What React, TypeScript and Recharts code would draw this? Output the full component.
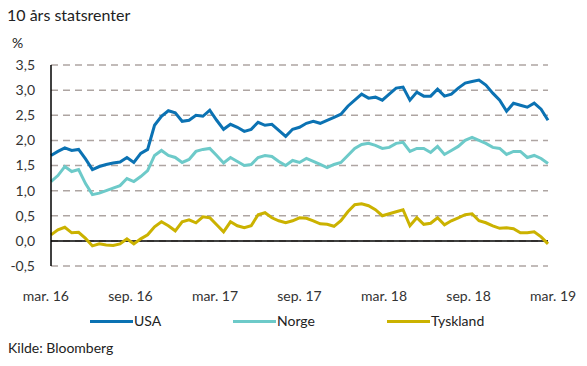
import { CartesianGrid, Line, LineChart, ReferenceLine, XAxis, YAxis } from "recharts";

// months since mar. 2016, half-month steps
const months = [
  0, 0.5, 1, 1.5, 2, 2.5, 3, 3.5, 4, 4.5, 5, 5.5, 6, 6.5, 7, 7.5, 8, 8.5, 9, 9.5,
  10, 10.5, 11, 11.5, 12, 12.5, 13, 13.5, 14, 14.5, 15, 15.5, 16, 16.5, 17, 17.5,
  18, 18.5, 19, 19.5, 20, 20.5, 21, 21.5, 22, 22.5, 23, 23.5, 24, 24.5, 25, 25.5,
  26, 26.5, 27, 27.5, 28, 28.5, 29, 29.5, 30, 30.5, 31, 31.5, 32, 32.5, 33, 33.5,
  34, 34.5, 35, 35.5, 36
];

const usa = [
  1.7, 1.78, 1.85, 1.8, 1.82, 1.63, 1.42, 1.48, 1.52, 1.55, 1.57, 1.66, 1.56, 1.74,
  1.82, 2.3, 2.48, 2.59, 2.55, 2.38, 2.4, 2.5, 2.48, 2.6, 2.4, 2.22, 2.32, 2.26,
  2.18, 2.22, 2.36, 2.3, 2.32, 2.2, 2.08, 2.22, 2.26, 2.34, 2.38, 2.34, 2.4, 2.46,
  2.52, 2.68, 2.8, 2.92, 2.84, 2.86, 2.8, 2.92, 3.04, 3.06, 2.8, 2.96, 2.88, 2.88,
  3.02, 2.88, 2.92, 3.04, 3.14, 3.17, 3.2, 3.1, 2.94, 2.8, 2.58, 2.74, 2.7, 2.66,
  2.74, 2.62, 2.4
];

const norge = [
  1.18, 1.3, 1.48, 1.38, 1.42, 1.14, 0.92, 0.95, 1.0, 1.05, 1.1, 1.24, 1.18, 1.28,
  1.4, 1.7, 1.8, 1.7, 1.66, 1.56, 1.62, 1.78, 1.82, 1.84, 1.7, 1.55, 1.66, 1.58,
  1.5, 1.52, 1.66, 1.7, 1.68, 1.58, 1.5, 1.6, 1.56, 1.64, 1.58, 1.52, 1.46, 1.52,
  1.56, 1.7, 1.84, 1.92, 1.94, 1.9, 1.84, 1.86, 1.94, 1.96, 1.78, 1.84, 1.84, 1.76,
  1.88, 1.72, 1.8, 1.88, 2.0, 2.06, 2.0, 1.94, 1.86, 1.84, 1.72, 1.78, 1.78, 1.66,
  1.7, 1.64, 1.54
];

const tyskland = [
  0.12, 0.22, 0.27, 0.16, 0.17, 0.05, -0.1, -0.06, -0.08, -0.09, -0.06, 0.04, -0.06,
  0.04, 0.12, 0.28, 0.38, 0.3, 0.2, 0.38, 0.42, 0.36, 0.48, 0.46, 0.32, 0.18, 0.38,
  0.3, 0.26, 0.3, 0.52, 0.56, 0.46, 0.4, 0.36, 0.4, 0.46, 0.45, 0.4, 0.34, 0.33, 0.29,
  0.4, 0.58, 0.72, 0.74, 0.7, 0.62, 0.5, 0.54, 0.58, 0.62, 0.3, 0.46, 0.33, 0.35,
  0.46, 0.32, 0.4, 0.46, 0.52, 0.54, 0.4, 0.36, 0.3, 0.25, 0.26, 0.24, 0.16, 0.16,
  0.18, 0.08, -0.06
];

const xTicks = [0, 6, 12, 18, 24, 30, 36];
const xLabels = ["mar. 16", "sep. 16", "mar. 17", "sep. 17", "mar. 18", "sep. 18", "mar. 19"];
const yTicks = [-0.5, 0, 0.5, 1, 1.5, 2, 2.5, 3, 3.5];

const series = [
  { key: "usa", name: "USA", color: "#0b72b3" },
  { key: "norge", name: "Norge", color: "#6dcac9" },
  { key: "tyskland", name: "Tyskland", color: "#cbb200" }
];

const data = months.map((m, i) => ({
  m,
  usa: usa[i],
  norge: norge[i],
  tyskland: tyskland[i]
}));

const font = "Lato, 'Noto Sans', sans-serif";

function XTick({ x, payload, index }: any) {
  const i = xTicks.indexOf(payload.value);
  return (
    <text x={x + (i - 3) * 1.7} y={301} textAnchor="middle" fill="#333" fontSize={14} fontFamily={font}>
      {xLabels[i >= 0 ? i : index]}
    </text>
  );
}

export default function App() {
  return (
    <div style={{ position: "absolute", left: 0, top: 0, width: 587, height: 366, background: "#fff", fontFamily: font, color: "#222" }}>
      <div style={{ position: "absolute", left: 7, top: 5, fontSize: 16, lineHeight: "20px" }}>10 års statsrenter</div>
      <div style={{ position: "absolute", left: 12, top: 34, fontSize: 14, lineHeight: "18px" }}>%</div>

      <LineChart width={587} height={310} data={data} margin={{ top: 65, right: 39, left: 11, bottom: 0 }}>
        <CartesianGrid vertical={false} stroke="#aea5a2" strokeDasharray="7 5" strokeWidth={1.5} />
        <XAxis
          dataKey="m"
          type="number"
          domain={[0, 36]}
          ticks={xTicks}
          axisLine={false}
          tickLine={false}
          height={44}
          tick={<XTick />}
          interval={0}
        />
        <YAxis
          type="number"
          domain={[-0.5, 3.5]}
          ticks={yTicks}
          width={40}
          axisLine={{ stroke: "#000", strokeWidth: 1.5 }}
          tickLine={false}
          tickSize={0}
          tickMargin={16}
          tick={{ fill: "#333", fontSize: 14, fontFamily: font }}
          tickFormatter={(v: number) => v.toFixed(1).replace(".", ",")}
          interval={0}
        />
        <ReferenceLine y={0} stroke="#000" strokeWidth={1.5} />
        {series.map((s) => (
          <Line
            key={s.key}
            dataKey={s.key}
            stroke={s.color}
            strokeWidth={3}
            dot={false}
            type="linear"
            isAnimationActive={false}
          />
        ))}
      </LineChart>

      {series.map((s, i) => (
        <div key={s.key} style={{ position: "absolute", left: [90, 233, 387][i], top: 312, display: "flex", alignItems: "center", fontSize: 14, lineHeight: "18px", color: "#222" }}>
          <span style={{ display: "inline-block", width: 43, height: 3, background: s.color, marginRight: 1 }} />
          {s.name}
        </div>
      ))}

      <div style={{ position: "absolute", left: 8, top: 339, fontSize: 14, lineHeight: "18px" }}>Kilde: Bloomberg</div>
    </div>
  );
}
